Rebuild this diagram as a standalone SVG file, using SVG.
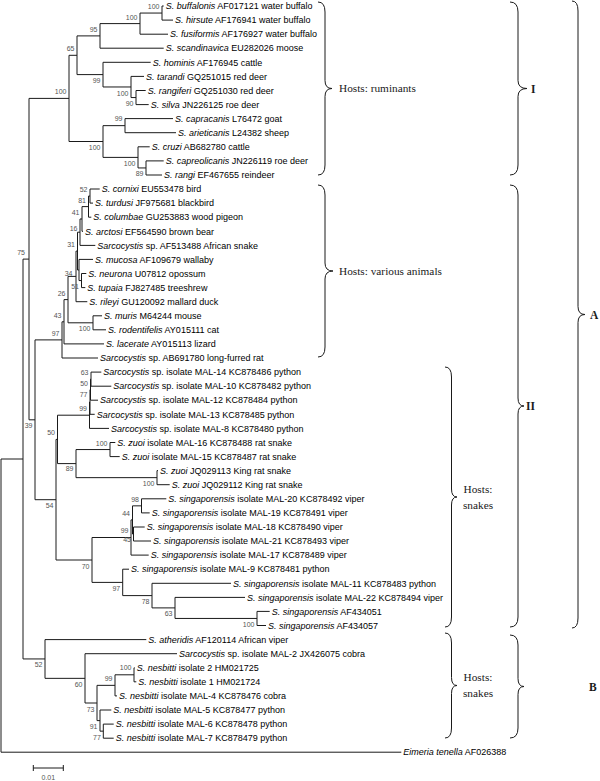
<svg xmlns="http://www.w3.org/2000/svg" width="600" height="781" viewBox="0 0 600 781">
<style>
.t{font-family:"Liberation Sans",Arial,sans-serif;font-size:9px;fill:#000}
.i{font-style:italic}
.bs{font-family:"Liberation Sans",Arial,sans-serif;font-size:7px;fill:#555;text-anchor:end}
.tree{fill:none;stroke:#1a1a1a;stroke-width:1}
.br{fill:none;stroke:#1a1a1a;stroke-width:1}
.h{font-family:"Liberation Serif","Times New Roman",serif;font-size:11.3px;fill:#1a1a1a}
.hm{font-family:"Liberation Serif","Times New Roman",serif;font-size:11.3px;fill:#1a1a1a;text-anchor:middle}
.c{font-family:"Liberation Serif","Times New Roman",serif;font-size:11.5px;font-weight:bold;fill:#1a1a1a}
.sc{font-family:"Liberation Sans",Arial,sans-serif;font-size:7px;fill:#555;text-anchor:middle}
</style>
<g id="connectors" class="tree">
<path d="M162,6V20.1 M140,13.05V34.2 M100,23.6V48.2 M136,90.5V104.6 M131,76.4V97.55 M103,62.3V86.98 M77,35.9V74.6 M125,118.6V132.7 M146,160.9V175 M138,146.8V167.95 M103,125.65V157.4 M69,55.3V141.5 M162,6H163.7 M162,20.1H173 M140,13.05H162 M140,34.2H168 M100,23.6H140 M100,48.2H163.7 M77,35.9H100 M103,62.3H150.7 M131,76.4H144 M136,90.5H145.7 M136,104.6H148.7 M131,97.55H136 M103,86.98H131 M77,74.6H103 M69,55.3H77 M125,118.6H173 M125,132.7H176 M103,125.65H125 M138,146.8H149.7 M146,160.9H163.7 M146,175H162 M138,167.95H146 M103,157.4H138 M69,141.5H103 M29,98.4H69"/>
<path d="M90,189V203.1 M88.5,196.05V217.2 M82,206.6V231.3 M80,218.97V245.4 M81.5,273.5V287.6 M79,259.4V280.55 M77.5,232.2V270 M76,251.1V301.7 M93,315.8V329.8 M68,276.4V322.8 M64,299.6V343.9 M62,321.8V358 M90,189H99.7 M90,203.1H93 M88.5,196.05H90 M88.5,217.2H91.3 M82,206.6H88.5 M82,231.3H83 M80,218.97H82 M80,245.4H95.3 M77.5,232.2H80 M79,259.4H93 M81.5,273.5H86.3 M81.5,287.6H85.3 M79,280.55H81.5 M77.5,270H79 M76,251.1H77.5 M76,301.7H87.3 M68,276.4H76 M93,315.8H102 M93,329.8H106 M68,322.8H93 M64,299.6H68 M64,343.9H104 M62,321.8H64 M62,358H98 M35,339.9H62"/>
<path d="M91,372.1V386.2 M90.5,379.15V400.2 M90,389.7V414.3 M89.5,402V428.4 M110,442.5V456.6 M157,470.6V484.7 M76,449.55V477.65 M57.5,415.2V463.6 M141.5,498.8V512.9 M133.5,527V541 M132.5,505.85V534 M131,519.9V555.1 M257,611.4V625.5 M175,597.4V618.45 M152,583.3V607.9 M122.7,569.2V595.6 M92,537.5V582.4 M56,439.4V560 M91,372.1H101.3 M91,386.2H111.3 M90.5,379.15H91 M90.5,400.2H98 M90,389.7H90.5 M90,414.3H94.7 M89.5,402H90 M89.5,428.4H109 M57.5,415.2H89.5 M110,442.5H115.3 M110,456.6H119.7 M76,449.55H110 M157,470.6H158 M157,484.7H169.7 M76,477.65H157 M57.5,463.6H76 M56,439.4H57.5 M141.5,498.8H166.3 M141.5,512.9H149.7 M132.5,505.85H141.5 M133.5,527H144.7 M133.5,541H151 M132.5,534H133.5 M131,519.9H132.5 M131,555.1H148.7 M92,537.5H131 M122.7,569.2H129 M152,583.3H231 M175,597.4H245 M257,611.4H269.7 M257,625.5H266 M175,618.45H257 M152,607.9H175 M122.7,595.6H152 M92,582.4H122.7 M56,560H92 M35,499.7H56"/>
<path d="M35,339.9V499.7 M29,98.4V419.8 M29,419.8H35 M23,259.1H29"/>
<path d="M134,667.8V681.8 M115,674.8V695.9 M103.3,724.1V738.2 M100,710V731.15 M97,685.35V720.6 M85,653.7V703 M45,639.6V678.35 M45,639.6H146.3 M85,653.7H177 M134,667.8H134.7 M134,681.8H136.3 M115,674.8H134 M115,695.9H117 M97,685.35H115 M100,710H111.3 M103.3,724.1H113.7 M103.3,738.2H113.7 M100,731.15H103.3 M97,720.6H100 M85,703H97 M45,678.35H85 M23,658.95H45"/>
<path d="M23,259.1V658.95 M1,459V752.2 M1,459H23 M1,752.2H401.3"/>
</g>
<g id="bootstrap" class="bs">
<text x="159.5" y="9.05">100</text><text x="137.5" y="19.6">100</text><text x="97.5" y="31.9">95</text><text x="74.5" y="51.3">65</text><text x="66.5" y="94.4">100</text><text x="100.5" y="83.1">99</text><text x="128.5" y="95.5">100</text><text x="133.5" y="106.05">90</text><text x="122.5" y="121">99</text><text x="100.5" y="150">100</text><text x="135.5" y="165.9">100</text><text x="143.5" y="176.45">89</text>
<text x="87.5" y="192.05">52</text><text x="86" y="202.6">81</text><text x="79.5" y="214.97">41</text><text x="77.5" y="231">16</text><text x="75" y="247">31</text><text x="79" y="289">51</text><text x="72.5" y="275.5">34</text><text x="65.5" y="295.6">26</text><text x="90.5" y="331.3">100</text><text x="61.5" y="317.8">43</text><text x="59.5" y="335.9">97</text><text x="25" y="255">75</text><text x="32.5" y="428.3">39</text>
<text x="88.5" y="375.15">63</text><text x="88" y="385.7">50</text><text x="87.5" y="397">77</text><text x="87" y="411">99</text><text x="55" y="435.4">50</text><text x="107.5" y="445.55">100</text><text x="73.5" y="471">89</text><text x="154.5" y="486.15">100</text><text x="53.5" y="508.2">54</text><text x="139" y="501.5">98</text><text x="130" y="515.5">44</text><text x="131" y="541.5">45</text><text x="128.5" y="532.5">99</text><text x="89.5" y="568.5">70</text><text x="120.2" y="590.9">97</text><text x="149.5" y="604.1">78</text><text x="172.5" y="616.4">63</text><text x="254.5" y="626.95">100</text>
<text x="42.5" y="667.45">52</text><text x="82.5" y="686.85">60</text><text x="94.5" y="711.5">73</text><text x="112.5" y="680.5">99</text><text x="131.5" y="670">100</text><text x="97.5" y="729.1">91</text><text x="100.8" y="739.65">77</text>
</g>
<g id="leaves" class="t">
<g id="leaf-buffalonis"><text x="165.7" y="9.2"><tspan class="i">S. buffalonis</tspan> AF017121 water buffalo</text></g>
<g id="leaf-hirsute"><text x="175" y="23.3"><tspan class="i">S. hirsute</tspan> AF176941 water buffalo</text></g>
<g id="leaf-fusiformis"><text x="170" y="37.4"><tspan class="i">S. fusiformis</tspan> AF176927 water buffalo</text></g>
<g id="leaf-scandinavica"><text x="165.7" y="51.4"><tspan class="i">S. scandinavica</tspan> EU282026 moose</text></g>
<g id="leaf-hominis"><text x="152.7" y="65.5"><tspan class="i">S. hominis</tspan> AF176945 cattle</text></g>
<g id="leaf-tarandi"><text x="146" y="79.6"><tspan class="i">S. tarandi</tspan> GQ251015 red deer</text></g>
<g id="leaf-rangiferi"><text x="147.7" y="93.7"><tspan class="i">S. rangiferi</tspan> GQ251030 red deer</text></g>
<g id="leaf-silva"><text x="150.7" y="107.8"><tspan class="i">S. silva</tspan> JN226125 roe deer</text></g>
<g id="leaf-capracanis"><text x="175" y="121.8"><tspan class="i">S. capracanis</tspan> L76472 goat</text></g>
<g id="leaf-arieticanis"><text x="178" y="135.9"><tspan class="i">S. arieticanis</tspan> L24382 sheep</text></g>
<g id="leaf-cruzi"><text x="151.7" y="150"><tspan class="i">S. cruzi</tspan> AB682780 cattle</text></g>
<g id="leaf-capreolicanis"><text x="165.7" y="164.1"><tspan class="i">S. capreolicanis</tspan> JN226119 roe deer</text></g>
<g id="leaf-rangi"><text x="164" y="178.2"><tspan class="i">S. rangi</tspan> EF467655 reindeer</text></g>
<g id="leaf-cornixi"><text x="101.7" y="192.2"><tspan class="i">S. cornixi</tspan> EU553478 bird</text></g>
<g id="leaf-turdusi"><text x="95" y="206.3"><tspan class="i">S. turdusi</tspan> JF975681 blackbird</text></g>
<g id="leaf-columbae"><text x="93.3" y="220.4"><tspan class="i">S. columbae</tspan> GU253883 wood pigeon</text></g>
<g id="leaf-arctosi"><text x="85" y="234.5"><tspan class="i">S. arctosi</tspan> EF564590 brown bear</text></g>
<g id="leaf-AF513488"><text x="97.3" y="248.6"><tspan class="i">Sarcocystis</tspan> sp. AF513488 African snake</text></g>
<g id="leaf-mucosa"><text x="95" y="262.6"><tspan class="i">S. mucosa</tspan> AF109679 wallaby</text></g>
<g id="leaf-neurona"><text x="88.3" y="276.7"><tspan class="i">S. neurona</tspan> U07812 opossum</text></g>
<g id="leaf-tupaia"><text x="87.3" y="290.8"><tspan class="i">S. tupaia</tspan> FJ827485 treeshrew</text></g>
<g id="leaf-rileyi"><text x="89.3" y="304.9"><tspan class="i">S. rileyi</tspan> GU120092 mallard duck</text></g>
<g id="leaf-muris"><text x="104" y="319"><tspan class="i">S. muris</tspan> M64244 mouse</text></g>
<g id="leaf-rodentifelis"><text x="108" y="333"><tspan class="i">S. rodentifelis</tspan> AY015111 cat</text></g>
<g id="leaf-lacerate"><text x="106" y="347.1"><tspan class="i">S. lacerate</tspan> AY015113 lizard</text></g>
<g id="leaf-AB691780"><text x="100" y="361.2"><tspan class="i">Sarcocystis</tspan> sp. AB691780 long-furred rat</text></g>
<g id="leaf-MAL14"><text x="103.3" y="375.3"><tspan class="i">Sarcocystis</tspan> sp. isolate MAL-14 KC878486 python</text></g>
<g id="leaf-MAL10"><text x="113.3" y="389.4"><tspan class="i">Sarcocystis</tspan> sp. isolate MAL-10 KC878482 python</text></g>
<g id="leaf-MAL12"><text x="100" y="403.4"><tspan class="i">Sarcocystis</tspan> sp. isolate MAL-12 KC878484 python</text></g>
<g id="leaf-MAL13"><text x="96.7" y="417.5"><tspan class="i">Sarcocystis</tspan> sp. isolate MAL-13 KC878485 python</text></g>
<g id="leaf-MAL8"><text x="111" y="431.6"><tspan class="i">Sarcocystis</tspan> sp. isolate MAL-8 KC878480 python</text></g>
<g id="leaf-MAL16"><text x="117.3" y="445.7"><tspan class="i">S. zuoi</tspan> isolate MAL-16 KC878488 rat snake</text></g>
<g id="leaf-MAL15"><text x="121.7" y="459.8"><tspan class="i">S. zuoi</tspan> isolate MAL-15 KC878487 rat snake</text></g>
<g id="leaf-JQ029113"><text x="160" y="473.8"><tspan class="i">S. zuoi</tspan> JQ029113 King rat snake</text></g>
<g id="leaf-JQ029112"><text x="171.7" y="487.9"><tspan class="i">S. zuoi</tspan> JQ029112 King rat snake</text></g>
<g id="leaf-MAL20"><text x="168.3" y="502"><tspan class="i">S. singaporensis</tspan> isolate MAL-20 KC878492 viper</text></g>
<g id="leaf-MAL19"><text x="151.7" y="516.1"><tspan class="i">S. singaporensis</tspan> isolate MAL-19 KC878491 viper</text></g>
<g id="leaf-MAL18"><text x="146.7" y="530.2"><tspan class="i">S. singaporensis</tspan> isolate MAL-18 KC878490 viper</text></g>
<g id="leaf-MAL21"><text x="153" y="544.2"><tspan class="i">S. singaporensis</tspan> isolate MAL-21 KC878493 viper</text></g>
<g id="leaf-MAL17"><text x="150.7" y="558.3"><tspan class="i">S. singaporensis</tspan> isolate MAL-17 KC878489 viper</text></g>
<g id="leaf-MAL9"><text x="131" y="572.4"><tspan class="i">S. singaporensis</tspan> isolate MAL-9 KC878481 python</text></g>
<g id="leaf-MAL11"><text x="233" y="586.5"><tspan class="i">S. singaporensis</tspan> isolate MAL-11 KC878483 python</text></g>
<g id="leaf-MAL22"><text x="247" y="600.6"><tspan class="i">S. singaporensis</tspan> isolate MAL-22 KC878494 viper</text></g>
<g id="leaf-AF434051"><text x="271.7" y="614.6"><tspan class="i">S. singaporensis</tspan> AF434051</text></g>
<g id="leaf-AF434057"><text x="268" y="628.7"><tspan class="i">S. singaporensis</tspan> AF434057</text></g>
<g id="leaf-atheridis"><text x="148.3" y="642.8"><tspan class="i">S. atheridis</tspan> AF120114 African viper</text></g>
<g id="leaf-MAL2"><text x="179" y="656.9"><tspan class="i">Sarcocystis</tspan> sp. isolate MAL-2 JX426075 cobra</text></g>
<g id="leaf-nes2"><text x="136.7" y="671"><tspan class="i">S. nesbitti</tspan> isolate 2 HM021725</text></g>
<g id="leaf-nes1"><text x="138.3" y="685"><tspan class="i">S. nesbitti</tspan> isolate 1 HM021724</text></g>
<g id="leaf-MAL4"><text x="119" y="699.1"><tspan class="i">S. nesbitti</tspan> isolate MAL-4 KC878476 cobra</text></g>
<g id="leaf-MAL5"><text x="113.3" y="713.2"><tspan class="i">S. nesbitti</tspan> isolate MAL-5 KC878477 python</text></g>
<g id="leaf-MAL6"><text x="115.7" y="727.3"><tspan class="i">S. nesbitti</tspan> isolate MAL-6 KC878478 python</text></g>
<g id="leaf-MAL7"><text x="115.7" y="741.4"><tspan class="i">S. nesbitti</tspan> isolate MAL-7 KC878479 python</text></g>
<g id="leaf-eimeria"><text x="403.3" y="755.4"><tspan class="i">Eimeria tenella</tspan> AF026388</text></g>
</g>
<g id="brace-ruminants"><path class="br" d="M318,2 Q325,2 325,12 L325,80.5 Q325,88.5 332,88.5 Q325,88.5 325,96.5 L325,165 Q325,175 318,175"/><text class="h" x="339" y="92.3">Hosts: ruminants</text></g>
<g id="brace-various"><path class="br" d="M318,185 Q325,185 325,195 L325,263 Q325,271 333,271 Q325,271 325,279 L325,347 Q325,357 318,357"/><text class="h" x="339" y="274.8">Hosts: various animals</text></g>
<g id="brace-snakes-II"><path class="br" d="M445,367 Q451.5,367 451.5,377 L451.5,489 Q451.5,497 457,497 Q451.5,497 451.5,505 L451.5,617 Q451.5,627 445,627"/><text class="hm" x="478" y="492.8">Hosts:</text><text class="hm" x="478" y="508.8">snakes</text></g>
<g id="brace-snakes-B"><path class="br" d="M445,633 Q451.5,633 451.5,643 L451.5,677.5 Q451.5,685.5 457,685.5 Q451.5,685.5 451.5,693.5 L451.5,728 Q451.5,738 445,738"/><text class="hm" x="478" y="681.3">Hosts:</text><text class="hm" x="478" y="697.3">snakes</text></g>
<g id="brace-I"><path class="br" d="M510,2 Q518,2 518,12 L518,80.5 Q518,88.5 527,88.5 Q518,88.5 518,96.5 L518,165 Q518,175 510,175"/><text class="c" x="531" y="92.5">I</text></g>
<g id="brace-II"><path class="br" d="M510,185 Q518,185 518,195 L518,398 Q518,406 524,406 Q518,406 518,414 L518,617 Q518,627 510,627"/><text class="c" x="526" y="410">II</text></g>
<g id="brace-A"><path class="br" d="M572,1 Q578,1 578,11 L578,306.5 Q578,314.5 585,314.5 Q578,314.5 578,322.5 L578,618 Q578,628 572,628"/><text class="c" x="590" y="318.5">A</text></g>
<g id="brace-B"><path class="br" d="M510,635 Q518,635 518,645 L518,678.5 Q518,686.5 524,686.5 Q518,686.5 518,694.5 L518,728 Q518,738 510,738"/><text class="c" x="589" y="690.5">B</text></g>
<g id="scale"><path class="tree" d="M33.3,768H63.3 M33.3,765V771 M63.3,765V771"/><text class="sc" x="48.3" y="779.5">0.01</text></g>
</svg>
